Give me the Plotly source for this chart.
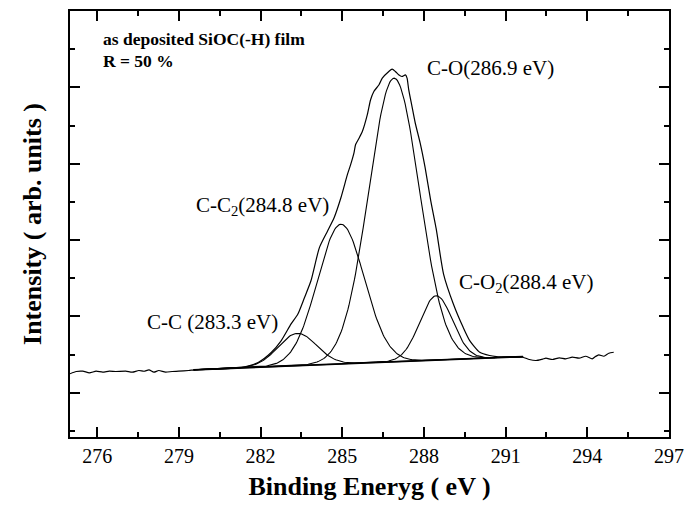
import numpy as np
import plotly.graph_objects as go

meas_x = [275.0, 275.23, 275.47, 275.71, 275.96, 276.20, 276.44, 276.68, 277.05, 277.29,
          277.53, 277.72, 277.90, 278.08, 278.26, 278.51, 278.75, 278.99, 279.36, 279.60,
          279.97, 280.69, 281.30, 281.91, 282.39, 282.76, 283.12, 283.37, 283.61, 283.85,
          284.16, 284.46, 284.70, 284.95, 285.19, 285.31, 285.43, 285.49, 285.62, 285.74,
          285.92, 286.04, 286.16, 286.35, 286.47, 286.71, 286.83, 286.95, 287.07, 287.19,
          287.32, 287.38, 287.44, 287.56, 287.68, 287.86, 288.04, 288.25, 288.45, 288.72,
          289.08, 289.44, 289.68, 290.05, 290.41, 290.66, 291.13, 291.63, 291.87, 292.12,
          292.36, 292.48, 292.72, 292.97, 293.21, 293.45, 293.70, 293.94, 294.18, 294.30,
          294.42, 294.61, 294.79, 294.97]
meas_y = [0.248, 0.278, 0.282, 0.261, 0.282, 0.269, 0.282, 0.278, 0.282, 0.269,
          0.291, 0.281, 0.300, 0.269, 0.291, 0.269, 0.278, 0.282, 0.291, 0.300,
          0.304, 0.311, 0.330, 0.396, 0.526, 0.683, 0.901, 1.031, 1.244, 1.466,
          1.901, 2.119, 2.292, 2.554, 2.859, 2.990, 3.141, 3.251, 3.337, 3.424,
          3.642, 3.838, 3.946, 4.034, 4.120, 4.208, 4.238, 4.208, 4.164, 4.142,
          4.164, 4.120, 3.969, 3.751, 3.533, 3.272, 2.954, 2.513, 2.145, 1.554,
          1.162, 0.856, 0.683, 0.530, 0.487, 0.474, 0.467, 0.465, 0.435, 0.422,
          0.441, 0.452, 0.435, 0.457, 0.444, 0.465, 0.452, 0.478, 0.444, 0.474,
          0.496, 0.478, 0.517, 0.530]

# ---- linear background (end points)
bg_x = [279.54, 291.64]
bg_y = [0.300, 0.474]

# ---- fitted Gaussian components
peak_names = ["C-C", "C-C2", "C-O", "C-O2"]
peak_center = [283.35, 284.95, 286.90, 288.45]
peak_height = [0.423, 1.828, 3.714, 0.842]
peak_sigma = [0.70, 0.86, 0.93, 0.60]

# ---- axis ticks
x_ticks = [276, 279, 282, 285, 288, 291, 294, 297]

fig = go.Figure()

fig.add_trace(go.Scatter(x=meas_x, y=meas_y, mode="lines",
                         line=dict(color="black", width=1.2, shape="spline", smoothing=0.6),
                         showlegend=False, hoverinfo="skip"))
fig.add_trace(go.Scatter(x=bg_x, y=bg_y, mode="lines",
                         line=dict(color="black", width=1.8),
                         showlegend=False, hoverinfo="skip"))

xs = np.linspace(bg_x[0], bg_x[1], 300)
bg_line = bg_y[0] + (xs - bg_x[0]) * (bg_y[1] - bg_y[0]) / (bg_x[1] - bg_x[0])
for name, c, h, s in zip(peak_names, peak_center, peak_height, peak_sigma):
    fig.add_trace(go.Scatter(x=xs, y=bg_line + h * np.exp(-(xs - c) ** 2 / (2 * s ** 2)),
                             mode="lines", line=dict(color="black", width=1.1),
                             name=name, showlegend=False, hoverinfo="skip"))

serif = "Liberation Serif"
ann_font = dict(family=serif, size=21, color="black")
annotations = [
    dict(x=276.14, y=4.638, text="<b>as deposited SiOC(-H) film</b>", font=dict(family=serif, size=17.5, color="black")),
    dict(x=276.14, y=4.351, text="<b>R = 50 %</b>", font=dict(family=serif, size=17.5, color="black")),
    dict(x=288.04, y=4.251, text="C-O(286.9 eV)", font=ann_font),
    dict(x=279.54, y=2.44, text="C-C<sub>2</sub>(284.8 eV)", font=ann_font),
    dict(x=289.20, y=1.44, text="C-O<sub>2</sub>(288.4 eV)", font=ann_font),
    dict(x=277.75, y=0.922, text="C-C (283.3 eV)", font=ann_font),
]
for a in annotations:
    a.update(xref="x", yref="y", xanchor="left", yanchor="middle", showarrow=False)

fig.update_layout(
    width=693, height=508,
    margin=dict(l=70, r=19, t=9, b=71),
    paper_bgcolor="white", plot_bgcolor="white",
    annotations=annotations,
    font=dict(family=serif, color="black"),
)
fig.update_xaxes(
    range=[275, 297], tickmode="array", tickvals=x_ticks,
    ticks="inside", ticklen=10, tickwidth=1.5, tickcolor="black",
    minor=dict(ticks="inside", ticklen=5, tickwidth=1.5, tickcolor="black", dtick=1.5, tick0=276),
    showline=True, linewidth=2, linecolor="black", mirror="allticks",
    showgrid=False, zeroline=False,
    tickfont=dict(family=serif, size=20, color="black"),
    title=dict(text="<b>Binding Eneryg ( eV )</b>", font=dict(family=serif, size=26, color="black"), standoff=11),
)
fig.update_yaxes(
    range=[-0.58, 5.0], tickmode="linear", tick0=0, dtick=1,
    ticks="inside", ticklen=10, tickwidth=1.5, tickcolor="black",
    minor=dict(ticks="inside", ticklen=5, tickwidth=1.5, tickcolor="black", dtick=0.5, tick0=0),
    showticklabels=False,
    showline=True, linewidth=2, linecolor="black", mirror="allticks",
    showgrid=False, zeroline=False,
    title=dict(text="<b>Intensity ( arb. units )</b>", font=dict(family=serif, size=26, color="black"), standoff=19),
)

fig.write_html("out.html")
